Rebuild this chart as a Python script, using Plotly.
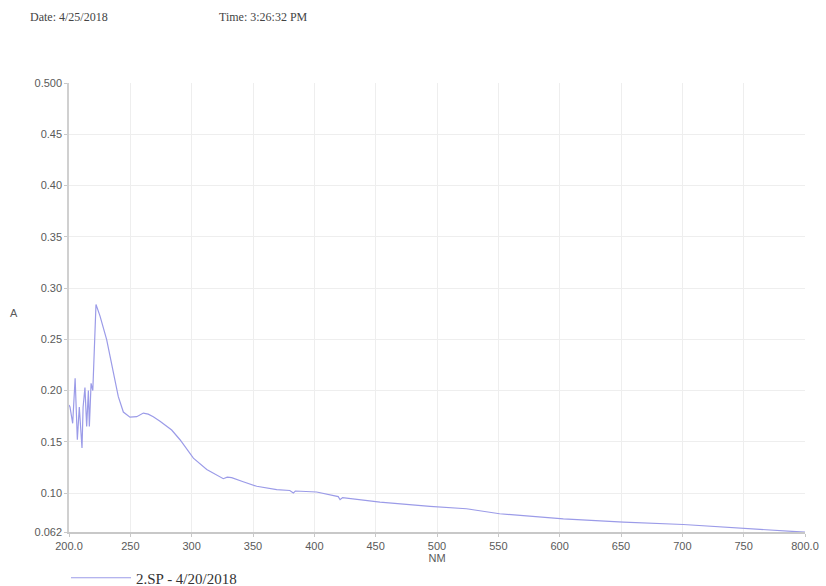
import plotly.graph_objects as go

wavelength_nm = [200.0, 200.8, 203.0, 205.0, 206.8, 208.4, 210.6, 211.5, 213.0, 214.4, 215.8, 216.6,
                 218.0, 219.4, 222.0, 225.3, 230.7, 236.0, 240.2, 244.3, 249.7, 255.2, 260.6, 264.6,
                 268.7, 274.2, 283.7, 290.5, 301.4, 312.3, 325.8, 329.0, 332.6, 342.0, 353.0, 369.3,
                 380.0, 382.9, 384.5, 401.9, 415.5, 419.5, 421.0, 423.0, 453.5, 494.3, 524.0, 551.0,
                 603.0, 652.0, 700.8, 752.5, 800.0]
absorbance = [0.186, 0.184, 0.168, 0.212, 0.152, 0.184, 0.144, 0.184, 0.203, 0.165, 0.200, 0.165,
              0.207, 0.200, 0.284, 0.2726, 0.2497, 0.220, 0.194, 0.179, 0.174, 0.1745, 0.178, 0.177,
              0.1745, 0.170, 0.1615, 0.152, 0.134, 0.123, 0.114, 0.1155, 0.115, 0.111, 0.1066, 0.1033,
              0.1025, 0.100, 0.102, 0.101, 0.0977, 0.0965, 0.0935, 0.0955, 0.0912, 0.087, 0.0847, 0.0798,
              0.0749, 0.0716, 0.0693, 0.065, 0.0618]

x_tickvals = [200, 250, 300, 350, 400, 450, 500, 550, 600, 650, 700, 750, 800]
x_ticktext = ["200.0", "250", "300", "350", "400", "450", "500", "550", "600", "650", "700", "750", "800.0"]
y_tickvals = [0.062, 0.10, 0.15, 0.20, 0.25, 0.30, 0.35, 0.40, 0.45, 0.500]
y_ticktext = ["0.062", "0.10", "0.15", "0.20", "0.25", "0.30", "0.35", "0.40", "0.45", "0.500"]

series_name = "2.SP - 4/20/2018"
date_text = "Date: 4/25/2018"
time_text = "Time: 3:26:32 PM"

ML, MR, MT, MB = 69, 21, 83, 54
W, H = 826, 586
plot_w = W - ML - MR
plot_h = H - MT - MB


def px_to_paper(px, py):
    return (px - ML) / plot_w, 1 + (MT - py) / plot_h


fig = go.Figure()
fig.add_trace(go.Scatter(x=wavelength_nm, y=absorbance, mode="lines", name=series_name,
                         line=dict(color="#9b9be8", width=1.2), showlegend=True))

tick_font = dict(family="Liberation Sans, Arial, sans-serif", size=11, color="#5a5a5a")
serif_font = dict(family="Liberation Serif, Times New Roman, serif", size=12, color="#444444")

lx, ly = px_to_paper(66, 578)
ax_, ay_ = px_to_paper(14, 313)
dx, dy = px_to_paper(28, 17)
tx, ty = px_to_paper(217, 17)

fig.update_layout(
    width=W, height=H,
    margin=dict(l=ML, r=MR, t=MT, b=MB, autoexpand=False),
    paper_bgcolor="white", plot_bgcolor="white",
    showlegend=True,
    legend=dict(x=lx, y=ly, xanchor="left", yanchor="middle", itemwidth=60,
                font=dict(family="Liberation Serif, Times New Roman, serif", size=15, color="#333333"),
                bgcolor="rgba(0,0,0,0)"),
    xaxis=dict(range=[200, 800], tickmode="array", tickvals=x_tickvals, ticktext=x_ticktext,
               showgrid=True, gridcolor="#eeeeee", gridwidth=1, zeroline=False,
               showline=True, linecolor="#c8c8c8", linewidth=1.5, ticks="outside", ticklen=3,
               tickcolor="#c8c8c8", tickfont=tick_font,
               title=dict(text="NM", font=tick_font, standoff=0)),
    yaxis=dict(range=[0.062, 0.5], tickmode="array", tickvals=y_tickvals, ticktext=y_ticktext,
               showgrid=True, gridcolor="#eeeeee", gridwidth=1, zeroline=False,
               showline=True, linecolor="#d0d0d0", linewidth=1.5, ticks="outside", ticklen=3,
               tickcolor="#c8c8c8", tickfont=tick_font),
    annotations=[
        dict(text="A", x=ax_, y=ay_, xref="paper", yref="paper", showarrow=False,
             xanchor="center", yanchor="middle", font=tick_font),
        dict(text=date_text, x=dx, y=dy, xref="paper", yref="paper", showarrow=False,
             xanchor="left", yanchor="middle", font=serif_font),
        dict(text=time_text, x=tx, y=ty, xref="paper", yref="paper", showarrow=False,
             xanchor="left", yanchor="middle", font=serif_font),
    ],
)

fig.write_html("out.html", config={"displayModeBar": False},
               post_script="document.body.style.margin='0px';document.body.style.overflow='hidden';")
